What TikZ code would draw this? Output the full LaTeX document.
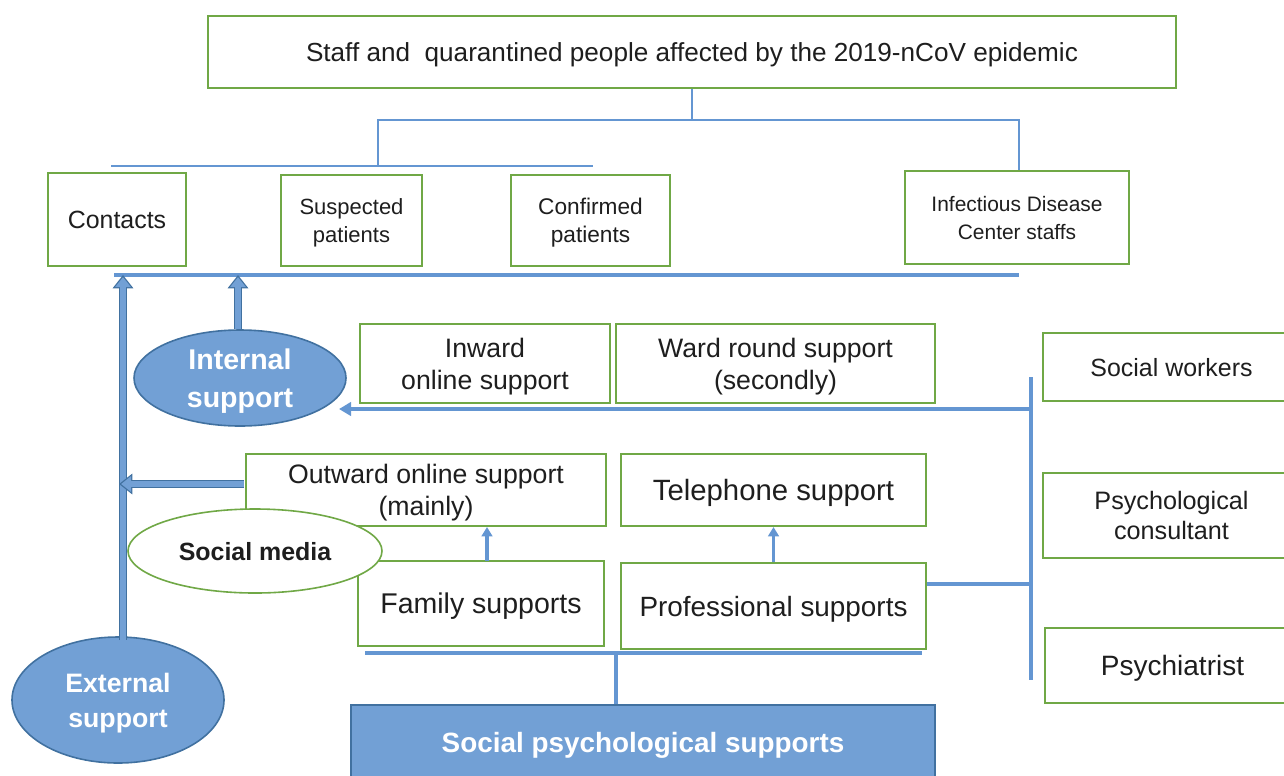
\documentclass[tikz,border=0pt]{standalone}
\usepackage{fontspec}
\setmainfont{Liberation Sans}
\usetikzlibrary{shapes.geometric,arrows.meta,calc}
\definecolor{boxgreen}{RGB}{112,168,70}
\definecolor{lineblue}{RGB}{100,150,210}
\definecolor{fillblue}{RGB}{114,160,213}
\definecolor{edgeblue}{RGB}{65,113,160}
\definecolor{txt}{RGB}{30,30,30}
\begin{document}
\begin{tikzpicture}[x=0.75pt,y=-0.75pt,
  box/.style={draw=boxgreen,line width=1.5pt,fill=white,align=center,text=txt,inner sep=0pt,text depth=0pt},
  bluebox/.style={draw=edgeblue,line width=1.2pt,fill=fillblue,align=center,text=white,inner sep=0pt,text depth=0pt},
  blueell/.style={ellipse,draw=edgeblue,line width=1.2pt,fill=fillblue,align=center,text=white,inner sep=0pt,text depth=0pt},
  tline/.style={draw=lineblue,line width=1.5pt},
  kline/.style={draw=lineblue,line width=3.5pt},
  sarrow/.style={draw=lineblue,line width=2.5pt,-{Triangle[width=8pt,length=7pt]}},
  larrow/.style={draw=lineblue,line width=3pt,-{Triangle[width=10pt,length=9pt]}},
  blockdark/.style={draw=edgeblue,line width=6.5pt,-{Triangle[width=15pt,length=10pt]}},
  blocklight/.style={draw=fillblue,line width=4.5pt,shorten >=1.6pt,-{Triangle[width=11.5pt,length=7.5pt]}}]
\useasboundingbox (0,0) rectangle (1284,775);
\clip (0,0) rectangle (1284,775);

% top level
\node[box,minimum width=726pt,minimum height=54pt,font=\fontsize{19.6}{24}\selectfont] (top) at (692,52)
  {Staff and~ quarantined people affected by the 2019-nCoV epidemic};

\node[box,minimum width=103.5pt,minimum height=69.75pt,font=\fontsize{18.7}{22}\selectfont] (contacts) at (117,219.5) {Contacts};
\node[box,minimum width=105.75pt,minimum height=68.25pt,font=\fontsize{16.5}{21.5}\selectfont] (suspected) at (351.5,220.5) {Suspected\\patients};
\node[box,minimum width=119.25pt,minimum height=68.25pt,font=\fontsize{17}{21}\selectfont] (confirmed) at (590.5,220.5) {Confirmed\\patients};
\node[box,minimum width=168pt,minimum height=69.75pt,font=\fontsize{15.7}{21}\selectfont] (infectious) at (1017,217.5) {Infectious Disease\\Center staffs};

% tree lines
\coordinate (tj) at (692,120);
\coordinate (tl) at (378,120);
\coordinate (tr) at (1019,120);
\coordinate (hl) at (111,166);
\coordinate (hr) at (593,166);
\draw[tline] (top.south -| tj) -- (tj);
\draw[tline] (tl |- hl) -- (tl) -- (tr) -- (tr |- infectious.north);
\draw[tline] (hl) -- (hr);

% thick line under top row
\coordinate (kl) at (114,275);
\coordinate (kr) at (1019,275);
\draw[kline] (kl) -- (kr);

% middle boxes
\node[box,minimum width=187.5pt,minimum height=59.25pt,font=\fontsize{20}{24}\selectfont] (inward) at (485,363.5) {Inward\\online support};
\node[box,minimum width=239.25pt,minimum height=59.25pt,font=\fontsize{20}{24}\selectfont] (ward) at (775.5,363.5) {Ward round support\\(secondly)};
\node[box,minimum width=270pt,minimum height=54pt,font=\fontsize{20}{24}\selectfont] (outward) at (426,490) {Outward online support\\(mainly)};
\node[box,minimum width=228.75pt,minimum height=54pt,font=\fontsize{22}{26}\selectfont] (telephone) at (773.5,490) {Telephone support};
\node[box,minimum width=184.5pt,minimum height=63.75pt,font=\fontsize{21.4}{26}\selectfont] (family) at (481,603.5) {Family supports};
\node[box,minimum width=228.75pt,minimum height=64.5pt,font=\fontsize{20.9}{26}\selectfont] (professional) at (773.5,606) {Professional supports};

% right boxes
\node[box,minimum width=192.75pt,minimum height=51pt,font=\fontsize{18.7}{23}\selectfont] (socialw) at (1171.5,367) {Social workers};
\node[box,minimum width=192.75pt,minimum height=63.75pt,font=\fontsize{18.9}{23}\selectfont] (psychc) at (1171.5,515.5) {Psychological\\consultant};
\node[box,minimum width=191.25pt,minimum height=56.25pt,font=\fontsize{21}{25}\selectfont] (psychi) at (1172.5,665.5) {Psychiatrist};

% ellipses
\node[blueell,minimum width=159pt,minimum height=72pt,font=\bfseries\fontsize{21.4}{28}\selectfont] (int) at (240,378) {Internal\\support};
\node[blueell,minimum width=159pt,minimum height=94.5pt,font=\bfseries\fontsize{20}{26.5}\selectfont] (ext) at (118,700) {External\\support};
\node[ellipse,draw=boxgreen,line width=1.2pt,fill=white,text=txt,inner sep=0pt,text depth=0pt,minimum width=190.5pt,minimum height=63pt,font=\bfseries\fontsize{18.7}{22}\selectfont] (sm) at (255,551) {Social media};

% bottom box
\node[bluebox,minimum width=438pt,minimum height=55.5pt,font=\bfseries\fontsize{20.9}{25}\selectfont] (sps) at (643,742) {Social psychological supports};

% bottom bar
\coordinate (bl) at (365,653);
\coordinate (br) at (922,653);
\coordinate (bj) at (616,653);
\draw[kline,line width=3pt] (bl) -- (br);
\draw[draw=lineblue,line width=3pt] (bj) -- (bj |- sps.north);

% right trunk
\coordinate (rt) at (1031,377);
\coordinate (rb) at (1031,680);
\coordinate (ra) at (1031,409);
\coordinate (rp) at (1031,584);
\draw[draw=lineblue,line width=3pt] (rt) -- (rb);
\draw[larrow] (ra) -- (339,409);
\draw[draw=lineblue,line width=3pt] (professional.east |- rp) -- (rp);

% small up arrows
\coordinate (fa) at (487,561);
\draw[sarrow] (fa) -- (fa |- outward.south);
\draw[sarrow] (professional.north) -- (telephone.south);

% block arrows
\coordinate (es) at (123,640);
\coordinate (oa) at (244,484);
\draw[blockdark] (es) -- (es |- kl);
\draw[blocklight] (es) -- (es |- kl);
\coordinate (ia) at (238,329);
\draw[blockdark] (ia) -- (ia |- kl);
\draw[blocklight] (ia) -- (ia |- kl);
\draw[blockdark] (oa) -- ([xshift=-3pt]oa -| es);
\draw[blocklight] (oa) -- ([xshift=-3pt]oa -| es);
\end{tikzpicture}
\end{document}
